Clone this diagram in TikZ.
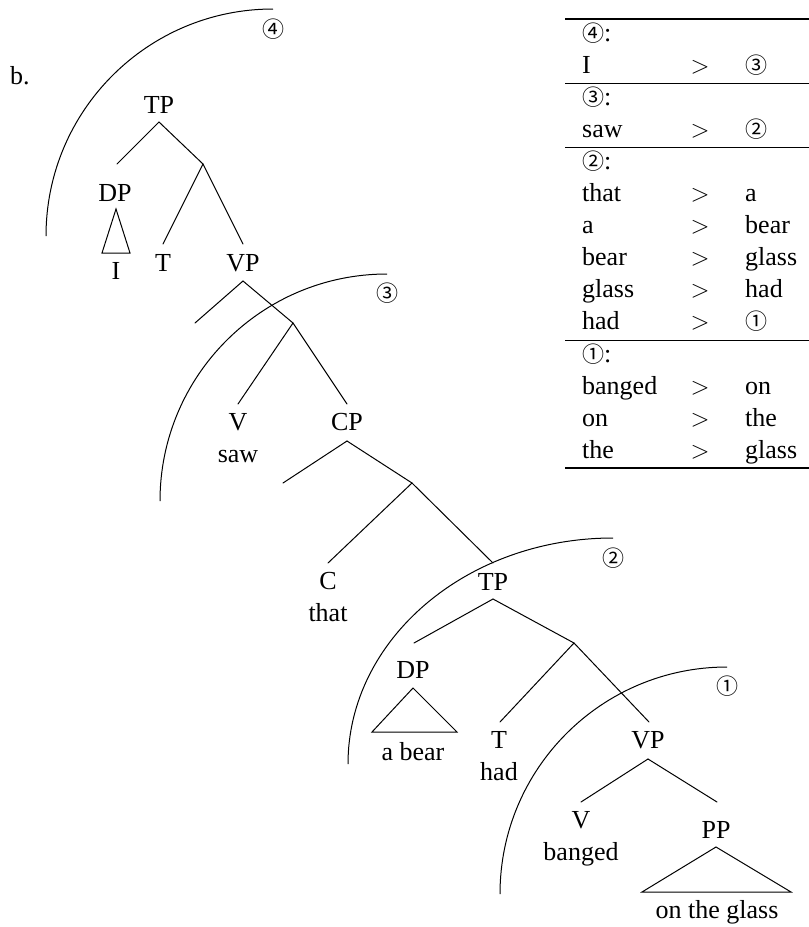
\documentclass[tikz,border=0pt]{standalone}
\usepackage{fontspec}
\setmainfont{Liberation Serif}
\newfontfamily\circfont{Noto Sans CJK JP}
\newcommand{\cn}[1]{{\circfont\fontsize{22}{26}\selectfont #1}}
\begin{document}
\begin{tikzpicture}[x=1pt,y=1pt,
  lbl/.style={anchor=base,inner sep=0pt,font=\fontsize{26}{30}\selectfont},
  cell/.style={anchor=base west,inner sep=0pt,font=\fontsize{26}{30}\selectfont},
  rel/.style={anchor=base,inner sep=0pt,font=\fontsize{26}{30}\selectfont},
  ringlabel/.style={inner sep=0pt},
  branch/.style={line width=1pt,line cap=round},
  ring/.style={line width=1pt},
  thickrule/.style={line width=1.5pt},
  thinrule/.style={line width=1pt}]
\useasboundingbox (0,0) rectangle (809,-927);

% example label
\node[cell] (ex) at (10,-84) {b.};

% ---- labels of the tree ----
\node[lbl] (tpA) at (159,-113) {TP};
\node[lbl] (dpA) at (115,-201) {DP};
\node[lbl] (pronI) at (116,-279) {I};
\node[lbl] (tA) at (163,-271) {T};
\node[lbl] (vpA) at (243,-271) {VP};
\node[lbl] (vA) at (238,-430) {V};
\node[lbl] (sawA) at (238,-462) {saw};
\node[lbl] (cpA) at (347,-430) {CP};
\node[lbl] (cA) at (328,-589) {C};
\node[lbl] (thatA) at (328,-621) {that};
\node[lbl] (tpB) at (493,-590) {TP};
\node[lbl] (dpB) at (413,-678) {DP};
\node[lbl] (abear) at (413,-760) {a bear};
\node[lbl] (tB) at (499,-748) {T};
\node[lbl] (hadB) at (499,-780) {had};
\node[lbl] (vpB) at (648,-748) {VP};
\node[lbl] (vB) at (581,-828) {V};
\node[lbl] (bangedB) at (581,-860) {banged};
\node[lbl] (ppB) at (716,-838) {PP};
\node[lbl] (otg) at (717,-918) {on the glass};

% ---- branch end points ----
\coordinate (tpAa) at (159,-122);
\coordinate (dpAt) at (117,-164);
\coordinate (j1) at (203,-164);
\coordinate (tAt) at (163,-244);
\coordinate (vpAt) at (243,-244);
\coordinate (vpAa) at (243,-281);
\coordinate (e1) at (195,-323);
\coordinate (j2) at (293,-323);
\coordinate (vAt) at (238,-404);
\coordinate (cpAt) at (347,-404);
\coordinate (cpAa) at (347,-441);
\coordinate (e2) at (283,-483);
\coordinate (j3) at (412,-483);
\coordinate (cAt) at (328,-563);
\coordinate (tpBt) at (493,-563);
\coordinate (tpBa) at (493,-599);
\coordinate (dpBt) at (414,-643);
\coordinate (j4) at (574,-643);
\coordinate (tBt) at (500,-722);
\coordinate (vpBt) at (649,-722);
\coordinate (vpBa) at (648,-759);
\coordinate (vBt) at (581,-802);
\coordinate (ppBt) at (717,-802);

% triangle corners
\coordinate (triAtop) at (116,-209);
\coordinate (triAl) at (102,-253);
\coordinate (triAr) at (130,-253);
\coordinate (triBtop) at (413,-688);
\coordinate (triBl) at (372,-732);
\coordinate (triBr) at (457,-732);
\coordinate (triCtop) at (716,-847);
\coordinate (triCl) at (642,-892);
\coordinate (triCr) at (791,-892);

% ---- branches ----
\draw[branch] (tpAa) -- (dpAt);
\draw[branch] (tpAa) -- (j1);
\draw[branch] (j1) -- (tAt);
\draw[branch] (j1) -- (vpAt);
\draw[branch] (vpAa) -- (e1);
\draw[branch] (vpAa) -- (j2);
\draw[branch] (j2) -- (vAt);
\draw[branch] (j2) -- (cpAt);
\draw[branch] (cpAa) -- (e2);
\draw[branch] (cpAa) -- (j3);
\draw[branch] (j3) -- (cAt);
\draw[branch] (j3) -- (tpBt);
\draw[branch] (tpBa) -- (dpBt);
\draw[branch] (tpBa) -- (j4);
\draw[branch] (j4) -- (tBt);
\draw[branch] (j4) -- (vpBt);
\draw[branch] (vpBa) -- (vBt);
\draw[branch] (vpBa) -- (ppBt);

\draw[branch,line join=miter] (triAtop) -- (triAl) -- (triAr) -- cycle;
\draw[branch,line join=miter] (triBtop) -- (triBl) -- (triBr) -- cycle;
\draw[branch,line join=miter] (triCtop) -- (triCl) -- (triCr) -- cycle;

% ---- spell-out domains ----
\coordinate (ring4) at (273,-9);
\coordinate (ring3) at (387,-274);
\coordinate (ring2) at (613,-538);
\coordinate (ring1) at (727,-667);
\draw[ring] (ring4) arc[start angle=90,end angle=180,radius=227];
\draw[ring] (ring3) arc[start angle=90,end angle=180,radius=227];
\draw[ring] (ring2) arc[start angle=90,end angle=180,x radius=265,y radius=226];
\draw[ring] (ring1) arc[start angle=90,end angle=180,radius=227];
\node[ringlabel] (r4) at (273,-29) {\cn{④}};
\node[ringlabel] (r3) at (387,-293) {\cn{③}};
\node[ringlabel] (r2) at (613,-558) {\cn{②}};
\node[ringlabel] (r1) at (727,-686) {\cn{①}};

% ---- precedence table ----
\draw[thickrule] (565,-19) -- (809,-19);
\draw[thinrule] (565,-83) -- (809,-83);
\draw[thinrule] (565,-147) -- (809,-147);
\draw[thinrule] (565,-340) -- (809,-340);
\draw[thickrule] (565,-468) -- (809,-468);

\node[cell] (h4) at (582,-41) {\cn{④}:};
\node[cell] (a1) at (582,-73) {I};
\node[rel] (g1) at (700,-73) {$>$};
\node[cell] (b1) at (745,-73) {\cn{③}};

\node[cell] (h3) at (582,-105) {\cn{③}:};
\node[cell] (a2) at (582,-137) {saw};
\node[rel] (g2) at (700,-137) {$>$};
\node[cell] (b2) at (745,-137) {\cn{②}};

\node[cell] (h2) at (582,-169) {\cn{②}:};
\node[cell] (a3) at (582,-201) {that};
\node[rel] (g3) at (700,-201) {$>$};
\node[cell] (b3) at (745,-201) {a};
\node[cell] (a4) at (582,-233) {a};
\node[rel] (g4) at (700,-233) {$>$};
\node[cell] (b4) at (745,-233) {bear};
\node[cell] (a5) at (582,-265) {bear};
\node[rel] (g5) at (700,-265) {$>$};
\node[cell] (b5) at (745,-265) {glass};
\node[cell] (a6) at (582,-297) {glass};
\node[rel] (g6) at (700,-297) {$>$};
\node[cell] (b6) at (745,-297) {had};
\node[cell] (a7) at (582,-329) {had};
\node[rel] (g7) at (700,-329) {$>$};
\node[cell] (b7) at (745,-329) {\cn{①}};

\node[cell] (h1) at (582,-362) {\cn{①}:};
\node[cell] (a8) at (582,-394) {banged};
\node[rel] (g8) at (700,-394) {$>$};
\node[cell] (b8) at (745,-394) {on};
\node[cell] (a9) at (582,-426) {on};
\node[rel] (g9) at (700,-426) {$>$};
\node[cell] (b9) at (745,-426) {the};
\node[cell] (a10) at (582,-458) {the};
\node[rel] (g10) at (700,-458) {$>$};
\node[cell] (b10) at (745,-458) {glass};
\end{tikzpicture}
\end{document}
